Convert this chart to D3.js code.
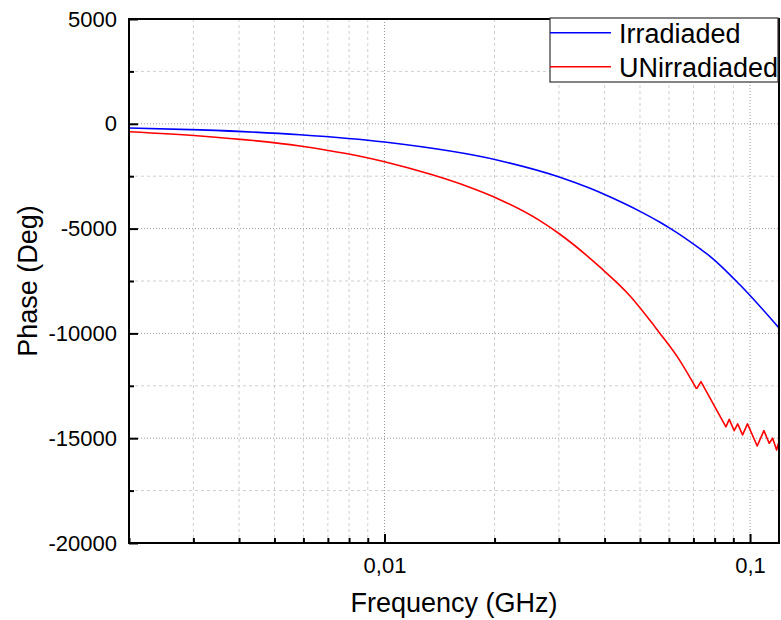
<!DOCTYPE html>
<html>
<head>
<meta charset="utf-8">
<script src="https://cdn.jsdelivr.net/npm/d3@7"></script>
<style>
  body { margin: 0; background: #fff; }
  svg { display: block; font-family: "Liberation Sans", Arial, sans-serif; }
</style>
</head>
<body>
<div id="chart"></div>
<script>
// data
const irrFreq  = [0.002, 0.00313, 0.00587, 0.01, 0.0207, 0.0302, 0.0365, 0.0403, 0.05, 0.0567, 0.0603, 0.0729, 0.0777, 0.0938, 0.12];
const irrPhase = [-200, -290, -520, -870, -1760, -2550, -3080, -3400, -4180, -4700, -4980, -5960, -6320, -7680, -9740];

const unirrFreq  = [0.002, 0.00313, 0.00587, 0.01, 0.0133, 0.0168, 0.0207, 0.0266, 0.0302, 0.0388, 0.0469, 0.0549, 0.0567, 0.064, 0.0714, 0.0734, 0.0859, 0.0877, 0.0905, 0.0925, 0.0954, 0.0984, 0.1046, 0.1091, 0.1128, 0.1153, 0.1182, 0.12];
const unirrPhase = [-380, -580, -1060, -1810, -2400, -2980, -3620, -4620, -5270, -6830, -8200, -9680, -10000, -11250, -12650, -12300, -14460, -14100, -14640, -14320, -14840, -14320, -15370, -14640, -15240, -15000, -15560, -15160];
// from this point on the measured curve is jagged (drawn straight between points)
const unirrJaggedFrom = 0.0714;

const seriesNames = ["Irradiaded", "UNirradiaded"];
const seriesColors = ["#0000ff", "#ff0000"];

const xMajor = [0.01, 0.1];
const xMajorLabels = ["0,01", "0,1"];
const xMinor = [0.002, 0.003, 0.004, 0.005, 0.006, 0.007, 0.008, 0.009, 0.02, 0.03, 0.04, 0.05, 0.06, 0.07, 0.08, 0.09];
const yMajor = [-20000, -15000, -10000, -5000, 0, 5000];
const yMinor = [-17500, -12500, -7500, -2500, 2500];

const width = 781, height = 620;
const plot = { left: 129, right: 779, top: 19, bottom: 543 };

const svg = d3.select("#chart").append("svg")
    .attr("width", width)
    .attr("height", height);

const x = d3.scaleLog().domain([0.002, 0.12]).range([plot.left, plot.right]);
const y = d3.scaleLinear().domain([-20000, 5000]).range([plot.bottom, plot.top]);

// grid
const grid = svg.append("g");
grid.selectAll(".vmin").data(xMinor.slice(1)).join("line")
    .attr("x1", d => x(d)).attr("x2", d => x(d))
    .attr("y1", plot.top).attr("y2", plot.bottom)
    .attr("stroke", "#cfcfcf").attr("stroke-dasharray", "3,3");
grid.selectAll(".vmaj").data(xMajor).join("line")
    .attr("x1", d => x(d)).attr("x2", d => x(d))
    .attr("y1", plot.top).attr("y2", plot.bottom)
    .attr("stroke", "#999").attr("stroke-dasharray", "1,2");
grid.selectAll(".hmin").data(yMinor).join("line")
    .attr("x1", plot.left).attr("x2", plot.right)
    .attr("y1", d => y(d)).attr("y2", d => y(d))
    .attr("stroke", "#cfcfcf").attr("stroke-dasharray", "3,3");
grid.selectAll(".hmaj").data(yMajor.slice(1, -1)).join("line")
    .attr("x1", plot.left).attr("x2", plot.right)
    .attr("y1", d => y(d)).attr("y2", d => y(d))
    .attr("stroke", "#999").attr("stroke-dasharray", "1,2");

// curves
svg.append("clipPath").attr("id", "clip").append("rect")
    .attr("x", plot.left).attr("y", plot.top)
    .attr("width", plot.right - plot.left).attr("height", plot.bottom - plot.top);

const smooth = d3.line().x(d => x(d[0])).y(d => y(d[1])).curve(d3.curveMonotoneX);
const straight = d3.line().x(d => x(d[0])).y(d => y(d[1]));

const irr = d3.zip(irrFreq, irrPhase);
const unirr = d3.zip(unirrFreq, unirrPhase);
const pieces = [
    { d: smooth(irr), c: seriesColors[0] },
    { d: smooth(unirr.filter(p => p[0] <= unirrJaggedFrom)), c: seriesColors[1] },
    { d: straight(unirr.filter(p => p[0] >= unirrJaggedFrom)), c: seriesColors[1] }
];
svg.append("g").attr("clip-path", "url(#clip)")
    .selectAll("path").data(pieces).join("path")
    .attr("d", p => p.d)
    .attr("fill", "none")
    .attr("stroke", p => p.c)
    .attr("stroke-width", 1.6)
    .attr("stroke-linejoin", "round");

// axes (ticks pointing inward)
const fontSize = 22;
function styleAxis(g) {
    g.select(".domain").remove();
    g.selectAll("line").attr("stroke", "#000").attr("stroke-width", 2);
    g.selectAll("text").attr("font-size", fontSize).attr("fill", "#000")
        .attr("font-family", "Liberation Sans, Arial, sans-serif");
}
svg.append("g").attr("transform", `translate(0,${plot.bottom})`)
    .call(d3.axisBottom(x).tickValues(xMinor).tickSize(-5).tickFormat(""))
    .call(styleAxis);
svg.append("g").attr("transform", `translate(0,${plot.bottom})`)
    .call(d3.axisBottom(x).tickValues(xMajor).tickSize(-9).tickPadding(14)
        .tickFormat((d, i) => xMajorLabels[i]))
    .call(styleAxis);
svg.append("g").attr("transform", `translate(${plot.left},0)`)
    .call(d3.axisLeft(y).tickValues(yMinor).tickSize(-5).tickFormat(""))
    .call(styleAxis);
svg.append("g").attr("transform", `translate(${plot.left},0)`)
    .call(d3.axisLeft(y).tickValues(yMajor).tickSize(-9).tickPadding(12)
        .tickFormat(d => String(d)))
    .call(styleAxis);

// frame
svg.append("rect")
    .attr("x", plot.left).attr("y", plot.top)
    .attr("width", plot.right - plot.left).attr("height", plot.bottom - plot.top)
    .attr("fill", "none").attr("stroke", "#000").attr("stroke-width", 2);

// axis titles
svg.append("text")
    .attr("x", (plot.left + plot.right) / 2).attr("y", 612)
    .attr("text-anchor", "middle").attr("font-size", 27).attr("fill", "#000")
    .text("Frequency (GHz)");
svg.append("text")
    .attr("transform", `translate(37,${(plot.top + plot.bottom) / 2}) rotate(-90)`)
    .attr("text-anchor", "middle").attr("font-size", 27).attr("fill", "#000")
    .text("Phase (Deg)");

// legend
const legend = svg.append("g");
legend.append("rect")
    .attr("x", 550).attr("y", 18).attr("width", 228).attr("height", 64)
    .attr("fill", "#fff").attr("stroke", "#333").attr("stroke-width", 1.2);
const item = legend.selectAll(".item").data(seriesNames).join("g")
    .attr("transform", (d, i) => `translate(550,${32.7 + i * 34})`);
item.append("line")
    .attr("x1", 0).attr("x2", 61)
    .attr("stroke", (d, i) => seriesColors[i]).attr("stroke-width", 1.6);
item.append("text")
    .attr("x", 69).attr("y", 10.5)
    .attr("font-size", 27).attr("fill", "#000")
    .text(d => d);
</script>
</body>
</html>
